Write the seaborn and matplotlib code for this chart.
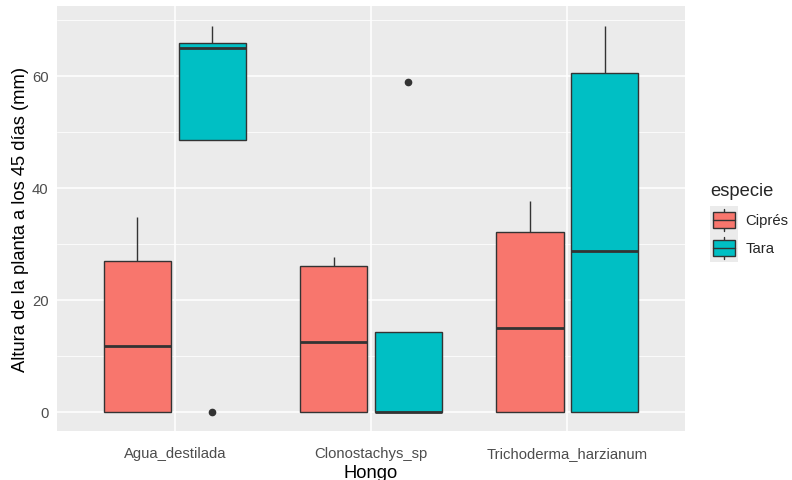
import matplotlib
matplotlib.use("Agg")
import matplotlib.pyplot as plt
import seaborn as sns
import pandas as pd
from matplotlib.legend_handler import HandlerBase
from matplotlib.patches import Rectangle, Patch
from matplotlib.lines import Line2D
from matplotlib.ticker import MultipleLocator

# ---- data ----
hongos = ["Agua_destilada", "Clonostachys_sp", "Trichoderma_harzianum"]
especies = ["Ciprés", "Tara"]
agua_cipres = [0, 0, 11.8, 27.0, 34.8]
agua_tara = [0, 48.6, 64.9, 65.9, 69.0]
clono_cipres = [0, 0, 12.5, 26.1, 27.7]
clono_tara = [0, 0, 0.0, 14.2, 58.9]
tricho_cipres = [0, 0, 15.0, 32.1, 37.7]
tricho_tara = [0, 0, 28.75, 60.5, 68.9]
colores = ["#F8766D", "#00BFC4"]
y_ticks = [0, 20, 40, 60]

groups = {
    ("Agua_destilada", "Ciprés"): agua_cipres,
    ("Agua_destilada", "Tara"): agua_tara,
    ("Clonostachys_sp", "Ciprés"): clono_cipres,
    ("Clonostachys_sp", "Tara"): clono_tara,
    ("Trichoderma_harzianum", "Ciprés"): tricho_cipres,
    ("Trichoderma_harzianum", "Tara"): tricho_tara,
}
rows = []
for (h, e), vals in groups.items():
    for v in vals:
        rows.append({"Hongo": h, "especie": e, "altura": v})
df = pd.DataFrame(rows)

sns.set_theme(style="darkgrid")
plt.rcParams["font.family"] = ["Liberation Sans", "DejaVu Sans"]

fig = plt.figure(figsize=(7.92, 4.81), dpi=100)
ax = fig.add_axes([0.072, 0.102, 0.793, 0.883])
ax.set_facecolor("#EBEBEB")

edge = "#333333"
sns.boxplot(data=df, x="Hongo", y="altura", hue="especie", order=hongos,
            hue_order=especies, palette=colores, width=0.76, gap=0.1,
            whis=1.5, linecolor=edge, linewidth=1.0, saturation=1,
            capwidths=0,
            medianprops=dict(color=edge, linewidth=2.0),
            flierprops=dict(marker="o", markerfacecolor=edge, markeredgecolor=edge,
                            markersize=4.5),
            legend=False, ax=ax)

ax.set_xlim(-0.6, 2.6)
ax.set_ylim(-3.45, 72.45)
ax.set_yticks(y_ticks)
ax.yaxis.set_minor_locator(MultipleLocator(10))
ax.grid(True, which="major", color="white", linewidth=1.1)
ax.grid(True, which="minor", axis="y", color="white", linewidth=0.55)
ax.set_axisbelow(True)
for s in ax.spines.values():
    s.set_visible(False)
ax.tick_params(axis="both", which="major", length=3.5, width=0.8, color=edge,
               labelcolor="#4D4D4D", labelsize=10.7, pad=2.5)
ax.tick_params(axis="x", which="major", pad=7)
ax.tick_params(axis="y", which="minor", length=0)
ax.set_xlabel("Hongo", fontsize=13.2, color="black", labelpad=3)
ax.set_ylabel("Altura de la planta a los 45 días (mm)", fontsize=13.2,
              color="black", labelpad=2)


class BoxHandler(HandlerBase):
    def create_artists(self, legend, orig_handle, xdescent, ydescent, width,
                       height, fontsize, trans):
        x0, y0 = -xdescent, -ydescent
        bg = Rectangle((x0, y0), width, height, facecolor="#EBEBEB",
                       edgecolor="none", transform=trans)
        cx = x0 + width / 2
        wl = Line2D([cx, cx], [y0 + 0.1 * height, y0 + 0.9 * height],
                    color=edge, lw=1.0, transform=trans)
        box = Rectangle((x0 + 0.1 * width, y0 + 0.2 * height), 0.8 * width,
                        0.57 * height, facecolor=orig_handle.get_facecolor(),
                        edgecolor=edge, lw=1.0, transform=trans)
        med = Line2D([x0 + 0.1 * width, x0 + 0.9 * width],
                     [y0 + 0.485 * height] * 2, color=edge, lw=1.0,
                     transform=trans)
        return [bg, wl, box, med]


handles = [Patch(facecolor=c) for c in colores]
leg = fig.legend(handles, especies, handler_map={Patch: BoxHandler()},
                 title="especie", loc="upper left",
                 bbox_to_anchor=(0.887, 0.635), frameon=False,
                 fontsize=10.7, title_fontsize=13.2, handlelength=1.88,
                 handleheight=2.52, labelspacing=0.0, handletextpad=0.52,
                 borderpad=0)
leg._legend_box.align = "left"
leg._legend_box.sep = 5

fig.savefig("out.png", dpi=100)
